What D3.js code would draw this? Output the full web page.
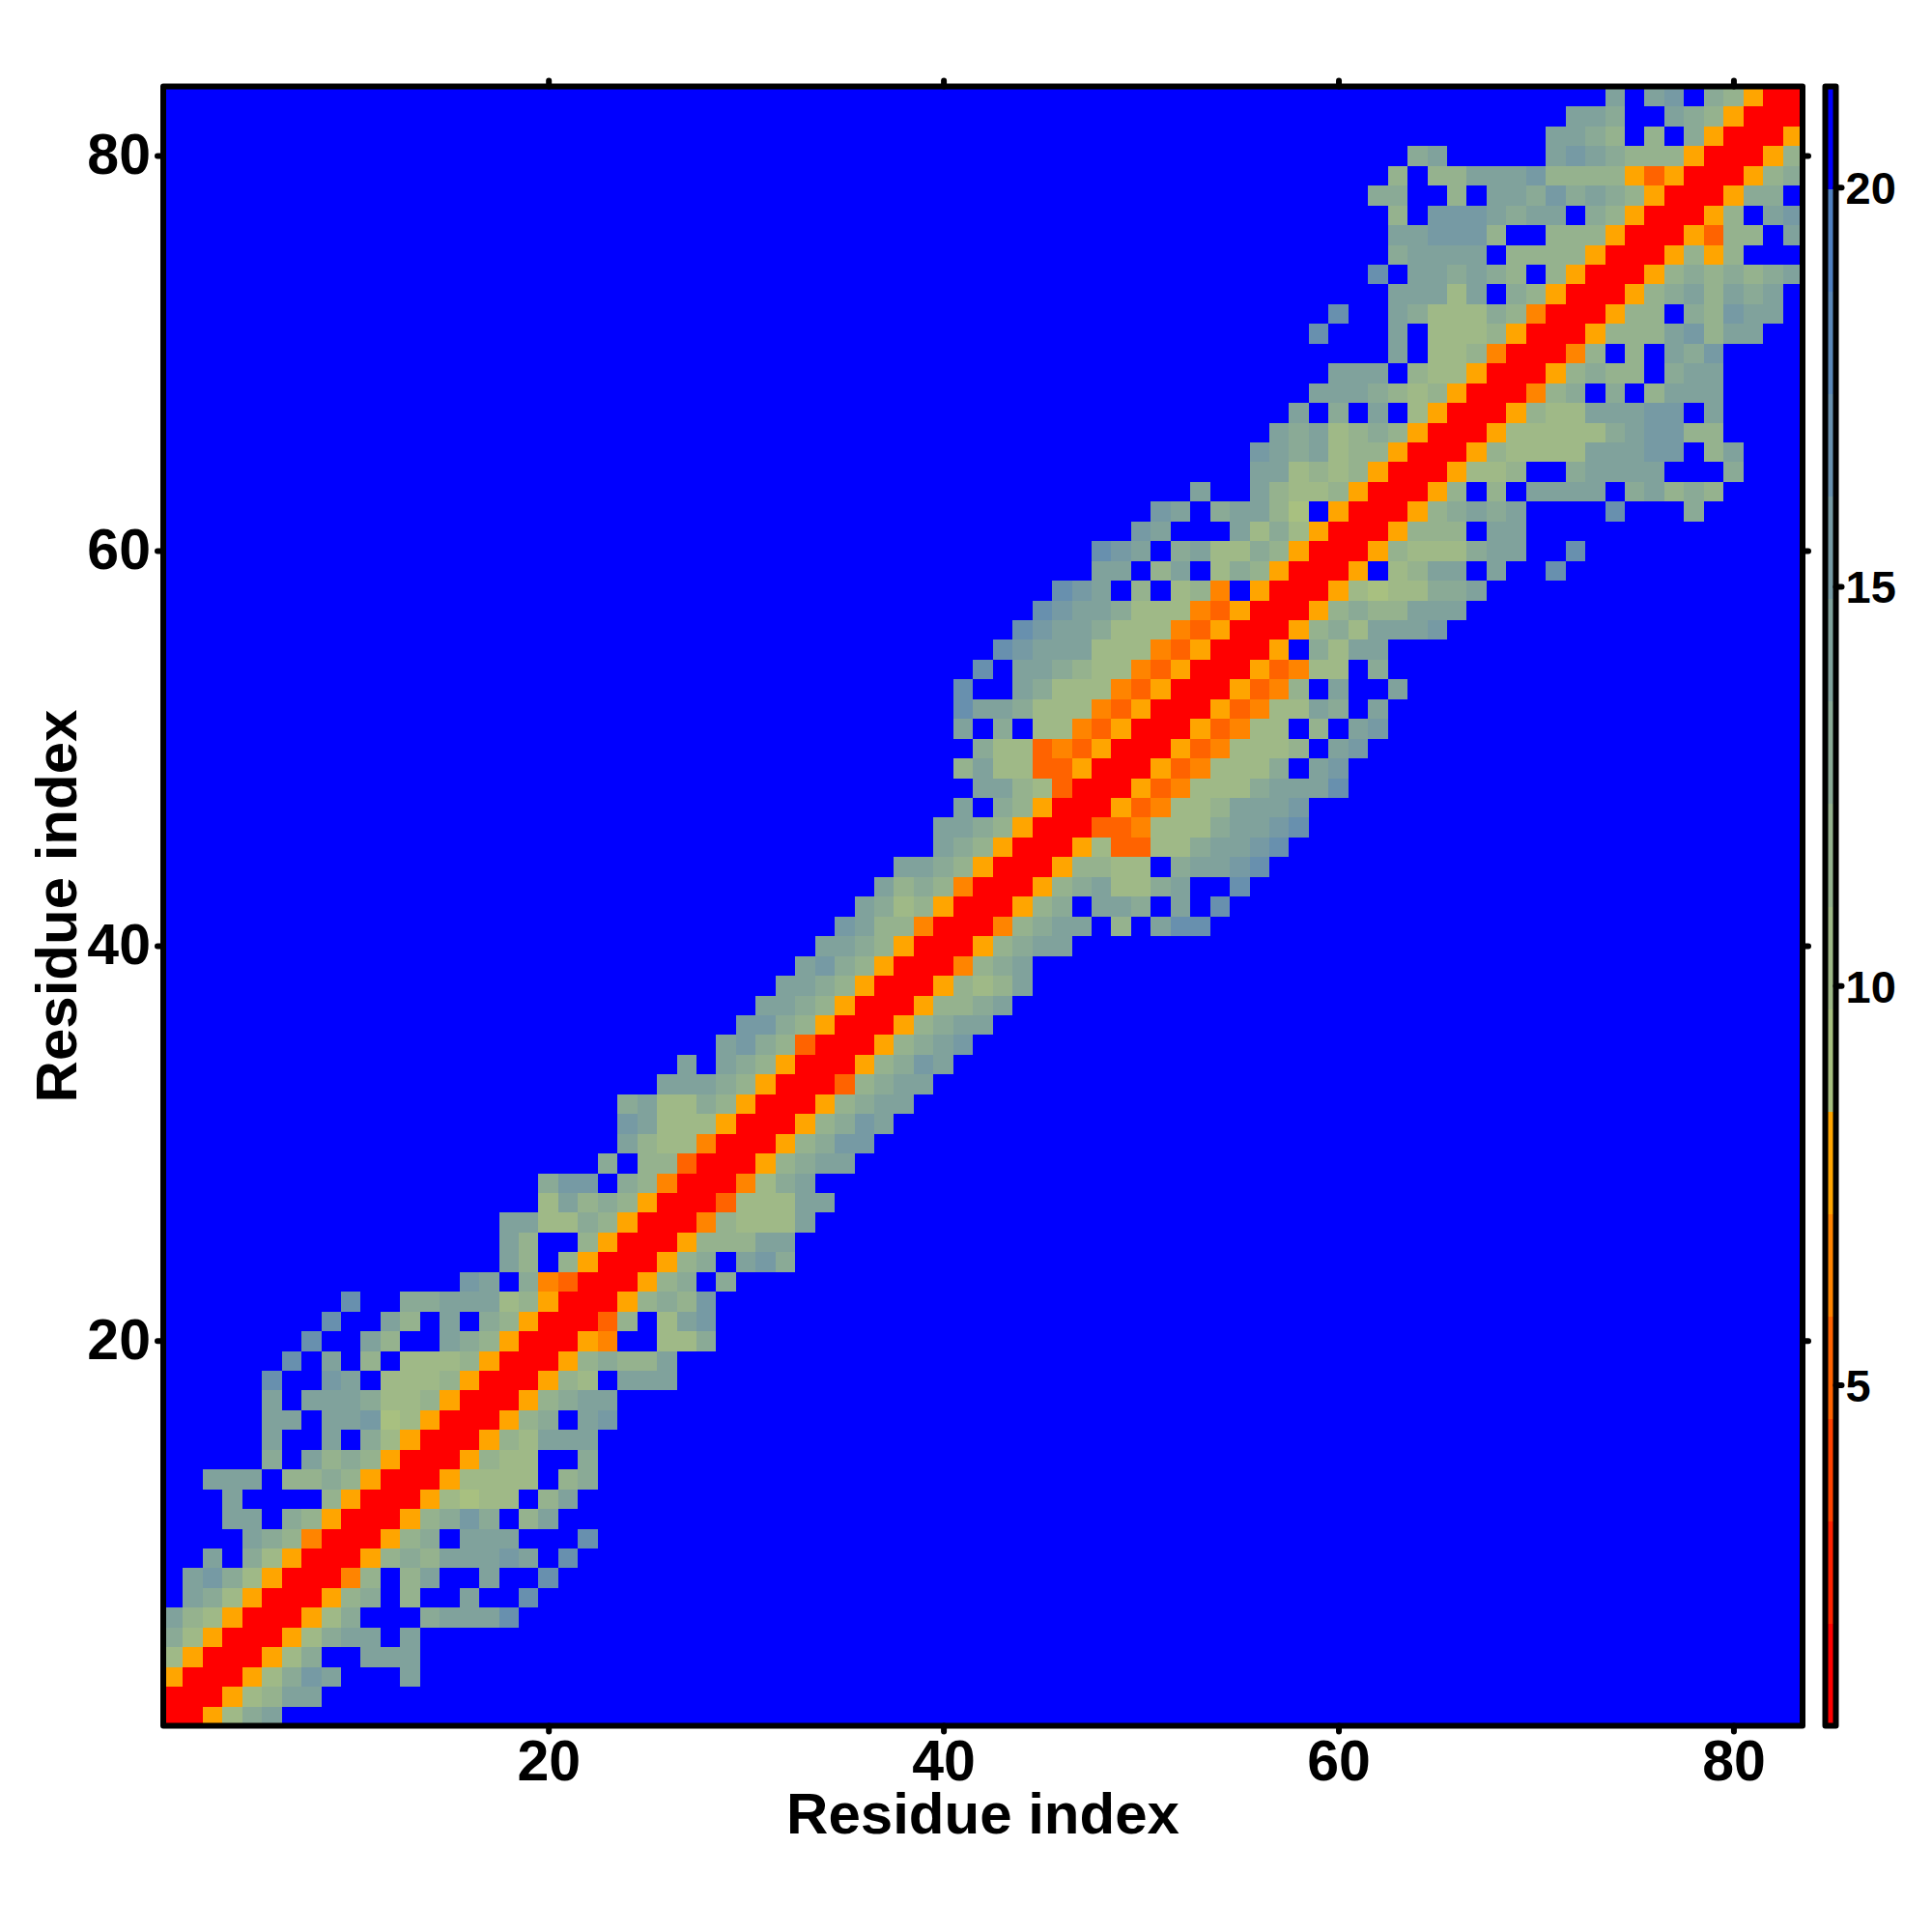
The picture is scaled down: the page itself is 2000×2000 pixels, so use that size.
<!DOCTYPE html>
<html>
<head>
<meta charset="utf-8">
<script src="https://cdnjs.cloudflare.com/ajax/libs/d3/7.8.5/d3.min.js"></script>
<style>
html,body{margin:0;padding:0;background:#fff}
svg{display:block}
text{font-family:"Liberation Sans",Arial,sans-serif;font-weight:700;fill:#000}
</style>
</head>
<body>
<svg id="chart" width="2000" height="2000"></svg>
<script>
// Distance map. Each string is one residue r: the colour bin of the cells (r, r), (r, r+1), ...
// in hex; "." is the top (blue) bin. The map is symmetric.
const upperRows = [
"00579a","00578aa","00579ba...a","00579..aaa","00579aa.a","00579...9aaac","00589.8..a..c","0048.8a..a..c",
"005898aaaba.c","00589.aaa...c","00589b9.8a","0057677.8a","0057777.89","005877..9","00587aaa","00589.ab",
"00589aa","00587.aaa","0058988a","0054..779","0038.7ab","005898b","00589.9","00589.ab9",
"005888aa","0048777a","003777aa","00479a","00589aa","00589bb","00589ba","00589aa",
"00389aa","00589ba","00589ab","00589aa","005889a","005878a","00489a","00589aa",
"00489aa.8.acc","00589.aa9.a.c","00589a779a..c","0058877.9aabc","005733779aabc","003347779aabc","00534778aaab","005347779aaac",
"005347779.ab","005347778.ab","0053477.8.ab","0053477a9.a","005348.a..a","0053477.9","005.97aa","005897aaab",
"0058988aaa","005767799a","005.78aa.a..c","00587779aa..c","005888.aa","00589a9a....c...9","0058.8.aaaa.9a898","005778..9aaaa...9",
"00587777aaabb.8a","005777779abb88","005877aaabb.a","00489.9.8aaa","0058988.9aa","0048.8.a9b","005888ab8aa","00588.98baa",
"00589a8a9a","005898989a","005858","005388.a","0058.ab","00599","00589","0058","005","00","0"
];
const residues = d3.range(1, 84);
const axisTicks = [20, 40, 60, 80];
const barTicks = [5, 10, 15, 20];
const valueRange = [0.73, 21.26];
const binColors = ["#ff0000","#ff2100","#ff4200","#ff6300","#ff8400","#ffa500","#a8c080","#9fb987",
                   "#95b28e","#8aaa96","#80a29c","#769aa4","#6890ae","#5b88b8","#5080c0","#0000ff"];
const axisTitle = "Residue index";

const binWidth = (valueRange[1] - valueRange[0]) / binColors.length;
const binValue = b => valueRange[0] + (b + 0.5) * binWidth;

// symmetric matrix cells
const cells = [];
residues.forEach(r => residues.forEach(c => {
  const lo = Math.min(r, c), hi = Math.max(r, c);
  const ch = upperRows[lo - 1][hi - lo];
  const bin = (ch === undefined || ch === ".") ? 15 : parseInt(ch, 16);
  cells.push({r, c, value: binValue(bin)});
}));

const box = {left: 169, right: 1866, top: 89.5, bottom: 1786.5};
const barBox = {left: 1889.5, right: 1900.5};

const svg = d3.select("#chart");
const x = d3.scaleLinear().domain([0.5, 83.5]).range([box.left, box.right]);
const y = d3.scaleLinear().domain([0.5, 83.5]).range([box.bottom, box.top]);
const color = d3.scaleQuantize().domain(valueRange).range(binColors);
const yBar = d3.scaleLinear().domain(valueRange).range([box.bottom, box.top]);

svg.append("g").attr("class","cells").attr("shape-rendering","crispEdges")
  .selectAll("rect").data(cells).join("rect")
  .attr("x", d => x(d.c - 0.5))
  .attr("y", d => y(d.r + 0.5))
  .attr("width", d => x(d.c + 0.5) - x(d.c - 0.5) + 0.5)
  .attr("height", d => y(d.r - 0.5) - y(d.r + 0.5) + 0.5)
  .attr("fill", d => color(d.value));

function styleAxis(g){
  g.select(".domain").remove();
  g.selectAll(".tick line").attr("stroke","#000").attr("stroke-width",6).attr("stroke-linecap","round");
}
const tickFont = 59, titleFont = 60;

const gb = svg.append("g").attr("transform",`translate(0,${box.bottom})`)
  .call(d3.axisBottom(x).tickValues(axisTicks).tickSize(6).tickPadding(9).tickFormat(d3.format("d")));
styleAxis(gb);
gb.selectAll(".tick text").style("font-size",tickFont+"px").attr("fill","#000").attr("dy","0.71em");

const gl = svg.append("g").attr("transform",`translate(${box.left},0)`)
  .call(d3.axisLeft(y).tickValues(axisTicks).tickSize(6).tickPadding(7).tickFormat(d3.format("d")));
styleAxis(gl);
gl.selectAll(".tick text").style("font-size",tickFont+"px").attr("fill","#000");

const gt = svg.append("g").attr("transform",`translate(0,${box.top})`)
  .call(d3.axisTop(x).tickValues(axisTicks).tickSize(6).tickFormat(""));
styleAxis(gt);
const gr = svg.append("g").attr("transform",`translate(${box.right},0)`)
  .call(d3.axisRight(y).tickValues(axisTicks).tickSize(6).tickFormat(""));
styleAxis(gr);

svg.append("rect").attr("x",box.left).attr("y",box.top)
  .attr("width",box.right-box.left).attr("height",box.bottom-box.top)
  .attr("fill","none").attr("stroke","#000").attr("stroke-width",6).attr("stroke-linejoin","round");

svg.append("text").attr("x",(box.left+box.right)/2).attr("y",1898)
  .attr("text-anchor","middle").style("font-size",titleFont+"px").text(axisTitle);
svg.append("text").attr("transform",`translate(79,${(box.top+box.bottom)/2}) rotate(-90)`)
  .attr("text-anchor","middle").style("font-size",titleFont+"px").text(axisTitle);

// colour bar
svg.append("g").attr("shape-rendering","crispEdges")
  .selectAll("rect").data(binColors).join("rect")
  .attr("x",barBox.left).attr("width",barBox.right-barBox.left)
  .attr("y",(d,i)=>yBar(valueRange[0]+(i+1)*binWidth))
  .attr("height",(d,i)=>yBar(valueRange[0]+i*binWidth)-yBar(valueRange[0]+(i+1)*binWidth)+0.5)
  .attr("fill",d=>d);
const gbar = svg.append("g").attr("transform",`translate(${barBox.right},0)`)
  .call(d3.axisRight(yBar).tickValues(barTicks).tickSize(6).tickPadding(4).tickFormat(d3.format("d")));
styleAxis(gbar);
gbar.selectAll(".tick text").style("font-size","47px").attr("fill","#000").attr("dy","0.36em");
svg.append("rect").attr("x",barBox.left).attr("y",box.top)
  .attr("width",barBox.right-barBox.left).attr("height",box.bottom-box.top)
  .attr("fill","none").attr("stroke","#000").attr("stroke-width",6).attr("stroke-linejoin","round");
</script>
</body>
</html>
